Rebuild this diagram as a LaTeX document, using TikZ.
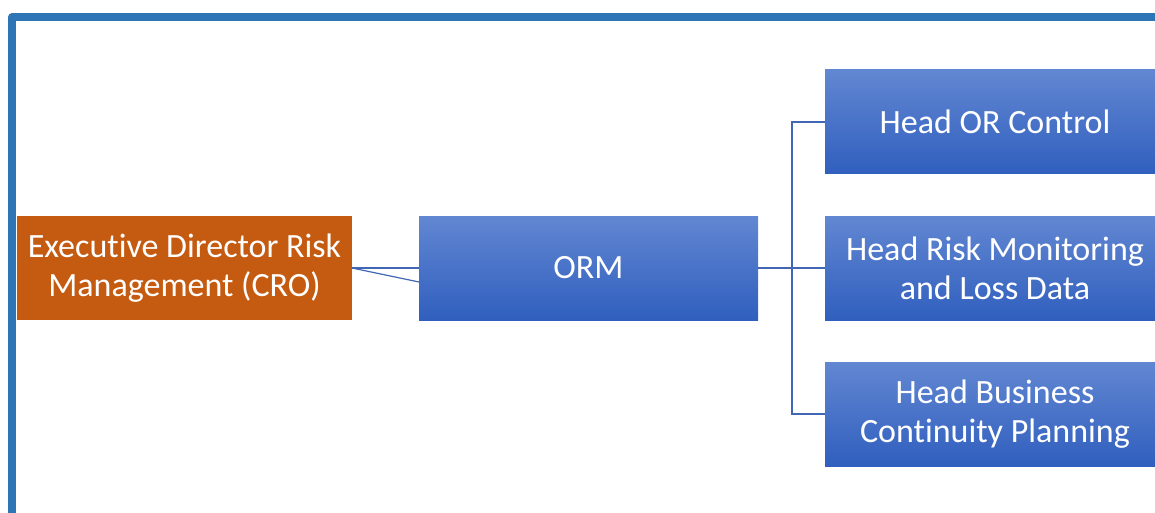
\documentclass[tikz,border=0pt]{standalone}
\usepackage{fontspec}
\setmainfont{Carlito}[Ligatures=NoCommon]
\usetikzlibrary{positioning}
\definecolor{frameblue}{HTML}{2E75B6}
\definecolor{boxtop}{HTML}{6287D2}
\definecolor{boxbot}{HTML}{305FBE}
\definecolor{croorange}{HTML}{C55A11}
\definecolor{linkblue}{HTML}{4066B4}
\tikzset{
  unitbox/.style={anchor=north west, inner sep=0pt, outer sep=0pt,
    text=white, align=center, font=\fontsize{34}{39}\selectfont},
  bluebox/.style={unitbox, top color=boxtop, bottom color=boxbot,
    minimum width=340pt, minimum height=104pt},
  orangebox/.style={unitbox, fill=croorange,
    minimum width=335pt, minimum height=104pt},
  link/.style={draw=linkblue, line width=1.2pt},
}
\begin{document}
\begin{tikzpicture}[x=1pt,y=-1pt]
\useasboundingbox (0,0) rectangle (1155,513);
% outer frame, open towards the right and bottom
\draw[frameblue, line width=7.5pt, line join=round] (12,530) -- (12,17) -- (1170,17);
% boxes
\node[orangebox] (cro) at (17,216) {Executive Director Risk\\Management (CRO)};
\node[bluebox, minimum width=339pt] (orm) at (419,216) {ORM};
\node[bluebox] (ctrl) at (825,70) {Head OR Control};
\node[bluebox] (mon) at (825,216) {Head Risk Monitoring\\and Loss Data};
\node[bluebox] (bcp) at (825,362) {Head Business\\Continuity Planning};
% connectors
\coordinate (fork) at ([xshift=34pt]orm.east);
\draw[link] (cro.east) -- (orm.west);
\draw[link] (cro.east) -- ([yshift=-14pt]orm.west);
\draw[link] (orm.east) -- (fork);
\draw[link] (ctrl.west) -| (fork);
\draw[link] (bcp.west) -| (fork);
\draw[link] (fork) -- (mon.west);
\end{tikzpicture}
\end{document}
